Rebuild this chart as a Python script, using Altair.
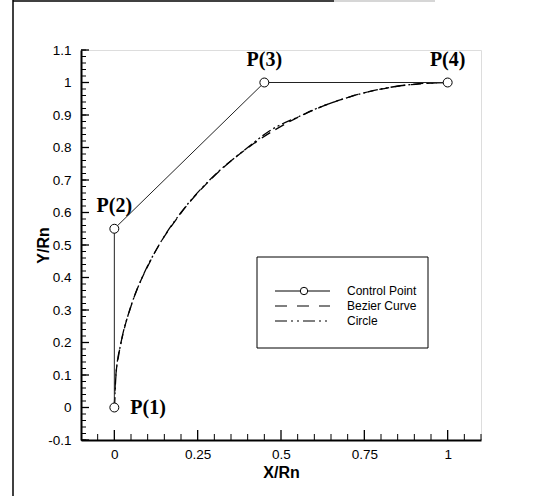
import altair as alt
import pandas as pd

# Control polygon of the cubic Bezier
ctrl_x = [0.0, 0.0, 0.45, 1.0]
ctrl_y = [0.0, 0.55, 1.0, 1.0]
ctrl_names = ["P(1)", "P(2)", "P(3)", "P(4)"]

# Bezier curve through the control polygon
bezier_x = [0.0, 0.0033, 0.0132, 0.0292, 0.0512, 0.112, 0.1936, 0.2938,
            0.4104, 0.5415, 0.6848, 0.8384, 1.0]
bezier_y = [0.0, 0.0817, 0.1617, 0.2396, 0.3152, 0.4586, 0.5896, 0.7063,
            0.8064, 0.888, 0.9488, 0.9869, 1.0]

# Quarter circle of unit radius
circle_x = [0.0, 0.005, 0.0202, 0.0461, 0.0835, 0.134, 0.2, 0.2859,
            0.4, 0.4641, 0.5641, 0.6, 0.6878, 0.8, 0.9, 1.0]
circle_y = [0.0, 0.1, 0.2, 0.3, 0.4, 0.5, 0.6, 0.7,
            0.8, 0.85, 0.9, 0.917, 0.95, 0.98, 0.995, 1.0]

# Axis ticks
x_major = [0, 0.25, 0.5, 0.75, 1]
x_minor = [-0.05, 0.05, 0.1, 0.15, 0.2, 0.3, 0.35, 0.4, 0.45, 0.55, 0.6,
           0.65, 0.7, 0.8, 0.85, 0.9, 0.95, 1.05, 1.1]
y_major = [-0.1, 0, 0.1, 0.2, 0.3, 0.4, 0.5, 0.6, 0.7, 0.8, 0.9, 1, 1.1]
y_minor = [round(-0.1 + 0.02 * i, 2) for i in range(61)]

legend_names = ["Control Point", "Bezier Curve", "Circle"]

W, H = 400, 390
SANS = "Liberation Sans"
SERIF = "Liberation Serif"

xs = alt.Scale(domain=[-0.1, 1.1], nice=False, zero=False)
ys = alt.Scale(domain=[-0.1, 1.1], nice=False, zero=False)

x_axis = alt.Axis(
    values=x_major, title="X/Rn", grid=False, ticks=False,
    domainColor="black", domainWidth=2, labelFont=SANS, labelFontSize=13.5,
    labelColor="black", labelPadding=7, labelFlush=False, labelOverlap=False,
    labelExpr="'' + datum.value",
    titleFont=SANS, titleFontSize=16, titleFontWeight="bold", titleColor="black",
    titleY=32, titleBaseline="middle")
y_axis = alt.Axis(
    values=y_major, title="Y/Rn", grid=False, ticks=False,
    domainColor="black", domainWidth=2, labelFont=SANS, labelFontSize=13.5,
    labelColor="black", labelPadding=10, labelFlush=False, labelOverlap=False,
    labelExpr="'' + datum.value",
    titleFont=SANS, titleFontSize=16, titleFontWeight="bold", titleColor="black",
    titleX=-38, titleY=H / 2, titleAngle=270, titleBaseline="middle",
    titleAlign="center")


def px(field="x"):
    return alt.X(f"{field}:Q", scale=xs, axis=x_axis)


def py(field="y"):
    return alt.Y(f"{field}:Q", scale=ys, axis=y_axis)


ctrl = pd.DataFrame({"x": ctrl_x, "y": ctrl_y, "name": ctrl_names,
                     "i": range(len(ctrl_x))})
bez = pd.DataFrame({"x": bezier_x, "y": bezier_y, "i": range(len(bezier_x))})
circ = pd.DataFrame({"x": circle_x, "y": circle_y, "i": range(len(circle_x))})

one = pd.DataFrame({"k": [0]})

# inward tick marks
xmaj = alt.Chart(pd.DataFrame({"x": x_major})).mark_rule(
    color="black", strokeWidth=1.3).encode(
    x=px(), y=alt.value(H), y2=alt.value(H - 10))
xmin = alt.Chart(pd.DataFrame({"x": x_minor})).mark_rule(
    color="black", strokeWidth=1).encode(
    x=px(), y=alt.value(H), y2=alt.value(H - 6))
ymaj = alt.Chart(pd.DataFrame({"y": y_major})).mark_rule(
    color="black", strokeWidth=1.3).encode(
    y=py(), x=alt.value(0), x2=alt.value(8))
ymin = alt.Chart(pd.DataFrame({"y": y_minor})).mark_rule(
    color="black", strokeWidth=1).encode(
    y=py(), x=alt.value(0), x2=alt.value(5))

bez_line = alt.Chart(bez).mark_line(
    color="black", strokeWidth=1.3, strokeDash=[10, 6], interpolate="monotone").encode(
    x=px(), y=py(), order="i:O")
circ_line = alt.Chart(circ).mark_line(
    color="black", strokeWidth=1.3, strokeDash=[10, 3, 2, 3, 2, 3],
    interpolate="monotone").encode(
    x=px(), y=py(), order="i:O")

poly = alt.Chart(ctrl).mark_line(color="#222", strokeWidth=1).encode(
    x=px(), y=py(), order="i:O")
pts = alt.Chart(ctrl).mark_point(
    shape="circle", size=80, filled=False, fill="white", fillOpacity=1,
    stroke="black", strokeWidth=1, opacity=1).encode(x=px(), y=py())

lbl_first = alt.Chart(ctrl).transform_filter(alt.datum.i == 0).mark_text(
    font=SERIF, fontSize=20, fontWeight="bold", align="left",
    baseline="middle", dx=16, color="black").encode(
    x=px(), y=py(), text="name:N")
lbl_rest = alt.Chart(ctrl).transform_filter(alt.datum.i > 0).mark_text(
    font=SERIF, fontSize=20, fontWeight="bold", align="center",
    baseline="middle", dy=-23, color="black").encode(
    x=px(), y=py(), text="name:N")

# legend box
LX0, LX1, LY0, LY1 = 176, 347, 207, 298
ROWS = [241, 256, 271]
SX0, SX1, SC, TX = 194, 249, 223, 266
leg_box = alt.Chart(one).mark_rect(fill="white", stroke="black", strokeWidth=1).encode(
    x=alt.value(LX0), x2=alt.value(LX1), y=alt.value(LY0), y2=alt.value(LY1))
leg_l1 = alt.Chart(one).mark_rule(color="black", strokeWidth=1).encode(
    x=alt.value(SX0), x2=alt.value(SX1), y=alt.value(ROWS[0]))
leg_c1 = alt.Chart(one).mark_point(
    shape="circle", size=55, filled=False, fill="white", fillOpacity=1,
    stroke="black", strokeWidth=1, opacity=1).encode(
    x=alt.value(SC), y=alt.value(ROWS[0]))
leg_l2 = alt.Chart(one).mark_rule(color="black", strokeWidth=1.2,
                                  strokeDash=[12, 10]).encode(
    x=alt.value(SX0), x2=alt.value(SX1), y=alt.value(ROWS[1]))
leg_l3 = alt.Chart(one).mark_rule(color="black", strokeWidth=1.2,
                                  strokeDash=[12, 4, 2, 4, 2, 4]).encode(
    x=alt.value(SX0), x2=alt.value(SX1), y=alt.value(ROWS[2]))
leg_txt = [
    alt.Chart(one).mark_text(font=SANS, fontSize=12, align="left",
                             baseline="middle", color="black",
                             text=name).encode(
        x=alt.value(TX), y=alt.value(ROWS[k]))
    for k, name in enumerate(legend_names)
]

# page border lines
frame_left = alt.Chart(one).mark_rule(color="black", strokeWidth=1.5).encode(
    x=alt.value(-68), y=alt.value(-50), y2=alt.value(446))
frame_top = alt.Chart(one).mark_rule(color="black", strokeWidth=1.5).encode(
    x=alt.value(-68), x2=alt.value(253), y=alt.value(-49))
frame_top2 = alt.Chart(one).mark_rule(color="#c8c8c8", strokeWidth=1.5).encode(
    x=alt.value(253), x2=alt.value(354), y=alt.value(-49))

chart = alt.layer(
    xmin, xmaj, ymin, ymaj, bez_line, circ_line, poly, pts,
    lbl_first, lbl_rest, leg_box, leg_l1, leg_c1, leg_l2, leg_l3, *leg_txt,
    frame_left, frame_top, frame_top2,
).properties(
    width=W, height=H,
    autosize=alt.AutoSizeParams(type="none"),
    padding={"left": 81, "top": 50, "right": 69, "bottom": 56},
).configure_view(stroke=None).configure(background="white")

chart.save("out.html", embed_options={"renderer": "svg", "actions": False})
